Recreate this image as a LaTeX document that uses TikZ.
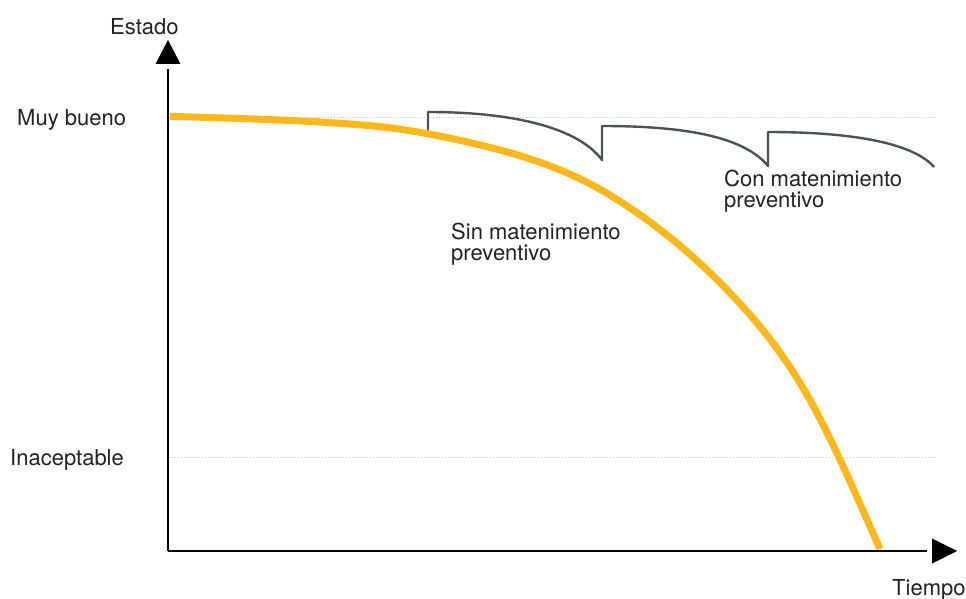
\documentclass[tikz,border=0pt]{standalone}
\usepackage{fontspec}
\setmainfont{TeX Gyre Heros}
\definecolor{orng}{HTML}{FDB71A}
\definecolor{maint}{HTML}{4A5157}
\definecolor{txt}{HTML}{222222}
\definecolor{gridc}{HTML}{C4C4C4}
\begin{document}
\begin{tikzpicture}[x=1pt,y=-1pt,
  lbl/.style={inner sep=0pt, text=txt, font=\fontsize{22}{22}\selectfont},
  axisline/.style={line width=2.8pt, black},
  arrowhd/.style={fill=black, draw=none},
  gridline/.style={gridc, line width=1pt, dotted},
  nomaint/.style={orng, line width=7pt},
  withmaint/.style={maint, line width=2.4pt, line join=round}]
\useasboundingbox (0,0) rectangle (966,599);
% named points
\coordinate (O) at (168,551);
\coordinate (ytop) at (168,69);
\coordinate (xend) at (927,551);
\coordinate (g1a) at (169,117.5);
\coordinate (g1b) at (935,117.5);
\coordinate (g2a) at (169,457);
\coordinate (g2b) at (935,457);
% grid lines
\draw[gridline] (g1a) -- (g1b);
\draw[gridline] (g2a) -- (g2b);
% maintenance curve
\draw[withmaint] (428,134) -- (428,112)
  .. controls (520,112) and (580,130) .. (602,160) -- (602,126)
  .. controls (690,126) and (745,138) .. (768,166) -- (768,132)
  .. controls (860,132) and (915,145) .. (934,167);
% curve without maintenance
\draw[nomaint] (170,116.3)
  .. controls (236.7,118.6) and (303.3,119.7) .. (370,125.7)
  .. controls (406.7,129.0) and (443.3,136.2) .. (480,145)
  .. controls (524.3,155.6) and (568.7,169.5) .. (613,197)
  .. controls (652,221.2) and (691,252.05) .. (730,293)
  .. controls (757.2,321.6) and (784.5,353.7) .. (811.7,403.3)
  .. controls (834.5,444.7) and (857.2,497.8) .. (880,549);
% axes
\draw[axisline] (O) -- (ytop);
\draw[axisline] (O) -- (xend);
\fill[arrowhd] (168,40) -- (180.5,64) -- (155.5,64) -- cycle;
\fill[arrowhd] (957,551) -- (932,538.5) -- (932,563.5) -- cycle;
% labels
\node[lbl, anchor=base west] (estado) at (110,35) {Estado};
\node[lbl, anchor=base west] (muy) at (17,125) {Muy bueno};
\node[lbl, anchor=base west] (inac) at (10,465) {Inaceptable};
\node[lbl, anchor=base west] (tiempo) at (892,595) {Tiempo};
\node[lbl, anchor=base west] (sin1) at (451,239) {Sin matenimiento};
\node[lbl, anchor=base west] (sin2) at (451,260) {preventivo};
\node[lbl, anchor=base west] (con1) at (724,186) {Con matenimiento};
\node[lbl, anchor=base west] (con2) at (724,207) {preventivo};
\end{tikzpicture}
\end{document}
